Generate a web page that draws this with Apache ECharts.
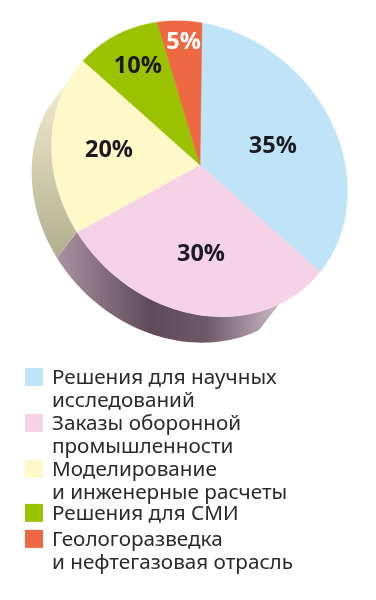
<!DOCTYPE html>
<html>
<head>
<meta charset="utf-8">
<style>
  html, body { margin: 0; padding: 0; background: #fff; }
  #chartsDOM { width: 376px; height: 600px; }
</style>
<script src="https://cdn.jsdelivr.net/npm/echarts@6/dist/echarts.min.js"></script>
</head>
<body>
<div id="chartsDOM"></div>
<script>
const categories = [
  'Решения для научных\nисследований',
  'Заказы оборонной\nпромышленности',
  'Моделирование\nи инженерные расчеты',
  'Решения для СМИ',
  'Геологоразведка\nи нефтегазовая отрасль'
];
const shares = [35, 30, 20, 10, 5];

const colors = ['#bfe4f8', '#f6d2e6', '#fff8c8', '#9bc200', '#ed6843'];
const labelColors = ['#1a1a22', '#1a1a22', '#1a1a22', '#1a1a22', '#ffffff'];
// сдвиг подписей от середины радиуса
const labelShift = [[7, 3], [2, 15], [-17, -2], [-20, -33], [-6, -50]];
// верх квадратов легенды
const legendTop = [367, 413, 459, 505, 529];

// наклон диска: проекция единичного круга на картинку
const tilt = { a: 148.4, b: -7.31, cx: 200, c: 25.04, d: 141.4, cy: 165, g: 0.00275, h: -0.0263 };
function project(percent, r, dx = 0, dy = 0) {
  const t = percent / 100 * 2 * Math.PI;
  const u = r * Math.sin(t);
  const v = -r * Math.cos(t);
  const w = 1 + tilt.g * u + tilt.h * v;
  return [
    (tilt.a * u + tilt.b * v + tilt.cx) / w + dx,
    (tilt.c * u + tilt.d * v + tilt.cy) / w + dy
  ];
}
function arc(from, to, dx, dy) {
  const points = [];
  for (let p = from; p < to; p += 0.5) points.push(project(p, 1, dx, dy));
  points.push(project(to, 1, dx, dy));
  return points;
}

// боковая стенка: где начинается и кончается, сдвиг вниз-влево
const WALL_FROM = 41;
const WALL_TO = 82;
const WALL_DX = -20;
const WALL_DY = 26;

const wallPink = {
  type: 'linear', global: true, x: 60, y: 0, x2: 285, y2: 0,
  colorStops: [
    { offset: 0, color: '#a78f9e' },
    { offset: 0.4, color: '#5f4b58' },
    { offset: 0.65, color: '#6d5966' },
    { offset: 1, color: '#d3c0cc' }
  ]
};
const wallBeige = {
  type: 'linear', global: true, x: 0, y: 85, x2: 0, y2: 265,
  colorStops: [
    { offset: 0, color: '#f0ebcc' },
    { offset: 1, color: '#aeac8c' }
  ]
};

const LINE = 23.2;
const PUSH = 2;
const chart = echarts.init(document.getElementById('chartsDOM'));

let start = 0;
const sliceSeries = categories.map((name, i) => {
  const from = start;
  start += shares[i];
  return {
    type: 'custom',
    name,
    coordinateSystem: 'none',
    silent: true,
    z: 2,
    itemStyle: { color: colors[i] },
    data: [[from, shares[i]]],
    renderItem: (params, api) => {
      const begin = api.value(0);
      const size = api.value(1);
      const [lx, ly] = project(begin + size / 2, 0.5, labelShift[i][0], labelShift[i][1]);
      return {
        type: 'group',
        children: [
          {
            type: 'polygon',
            shape: { points: [[tilt.cx, tilt.cy], ...arc(begin, begin + size)] },
            style: { fill: colors[i], stroke: colors[i], lineWidth: 0.5 }
          },
          {
            type: 'text',
            style: {
              text: size + '%',
              x: lx,
              y: ly,
              align: 'center',
              verticalAlign: 'middle',
              font: 'bold 23.5px "Open Sans"',
              fill: labelColors[i]
            }
          }
        ]
      };
    }
  };
});

const pinkEnd = shares[0] + shares[1];
const wallSeries = {
  type: 'custom',
  coordinateSystem: 'none',
  silent: true,
  z: 1,
  data: [[WALL_FROM, pinkEnd, 0], [pinkEnd, WALL_TO, 1]],
  renderItem: (params, api) => {
    const from = api.value(0);
    const to = api.value(1);
    const fill = api.value(2) === 0 ? wallPink : wallBeige;
    return {
      type: 'polygon',
      shape: { points: [...arc(from, to), ...arc(from, to, WALL_DX, WALL_DY).reverse()] },
      style: { fill }
    };
  }
};

chart.setOption({
  animation: false,
  backgroundColor: '#fff',
  legend: categories.map((name, i) => {
    const twoLines = name.includes('\n');
    const height = (twoLines ? LINE * 3 : LINE) + PUSH;
    return {
      data: [name],
      left: 25,
      // текст центрируется по квадрату, поэтому сверху пустая строка
      top: legendTop[i] + 9 - height / 2 + (twoLines ? 3 : 0),
      padding: 0,
      icon: 'rect',
      itemWidth: 18,
      itemHeight: 18,
      selectedMode: false,
      formatter: (text) => {
        const lines = text.split('\n');
        if (twoLines) return ['{b| }', ...lines.map((l) => `{t|${l}}`)].join('\n');
        return `{s|${text}}`;
      },
      textStyle: {
        rich: {
          t: { fontFamily: 'Noto Sans', fontSize: 20.7, lineHeight: LINE, color: '#2a2a2a', padding: [0, 0, 0, 4] },
          s: { fontFamily: 'Noto Sans', fontSize: 20.7, lineHeight: LINE, color: '#2a2a2a', padding: [PUSH, 0, 0, 4] },
          b: { fontFamily: 'Noto Sans', fontSize: 20.7, lineHeight: LINE + PUSH, color: '#2a2a2a' }
        }
      }
    };
  }),
  series: [wallSeries, ...sliceSeries]
});
</script>
</body>
</html>
